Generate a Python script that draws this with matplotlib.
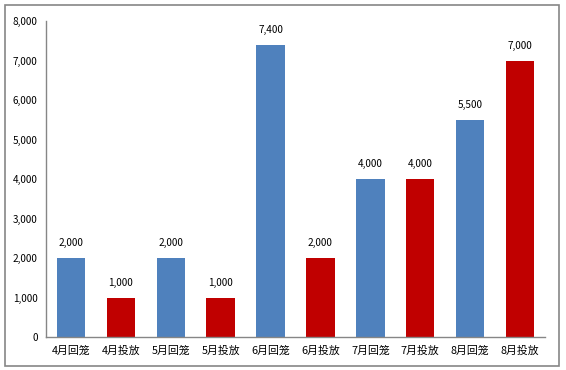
import matplotlib
matplotlib.use("Agg")
import matplotlib.pyplot as plt
from matplotlib.patches import Rectangle

plt.rcParams['font.family'] = ['Noto Sans CJK SC', 'DejaVu Sans']

categories = ["4月回笼", "4月投放", "5月回笼", "5月投放", "6月回笼",
              "6月投放", "7月回笼", "7月投放", "8月回笼", "8月投放"]
values = [2000, 1000, 2000, 1000, 7400, 2000, 4000, 4000, 5500, 7000]
colors = ["#4F81BD", "#C00000"] * 5
yticks = [0, 1000, 2000, 3000, 4000, 5000, 6000, 7000, 8000]

fig = plt.figure(figsize=(5.66, 3.70), dpi=100)
fig.patch.set_facecolor("white")
# chart border
fig.patches.append(Rectangle((5/566, 4/370), 554/566, 361/370, transform=fig.transFigure,
                             fill=False, edgecolor="#868686", linewidth=1.2))

ax = fig.add_axes([46/566, 33/370, 499/566, 316/370])
x = list(range(len(values)))
ax.bar(x, values, width=0.57, color=colors)

for xi, v in zip(x, values):
    ax.text(xi, v + 250, f"{v:,}", ha="center", va="bottom", fontsize=7.2, color="black")

ax.set_xlim(-0.5, len(values) - 0.5)
ax.set_ylim(0, 8000)
ax.set_yticks(yticks)
ax.set_yticklabels([f"{t:,}" for t in yticks], fontsize=7.2)
ax.set_xticks(x)
ax.set_xticklabels(categories, fontsize=7.8)
ax.tick_params(length=0, pad=6)
ax.tick_params(axis="x", pad=6)

for s in ["top", "right"]:
    ax.spines[s].set_visible(False)
for s in ["left", "bottom"]:
    ax.spines[s].set_color("#868686")
    ax.spines[s].set_linewidth(1.0)

fig.savefig("out.png", dpi=100)
